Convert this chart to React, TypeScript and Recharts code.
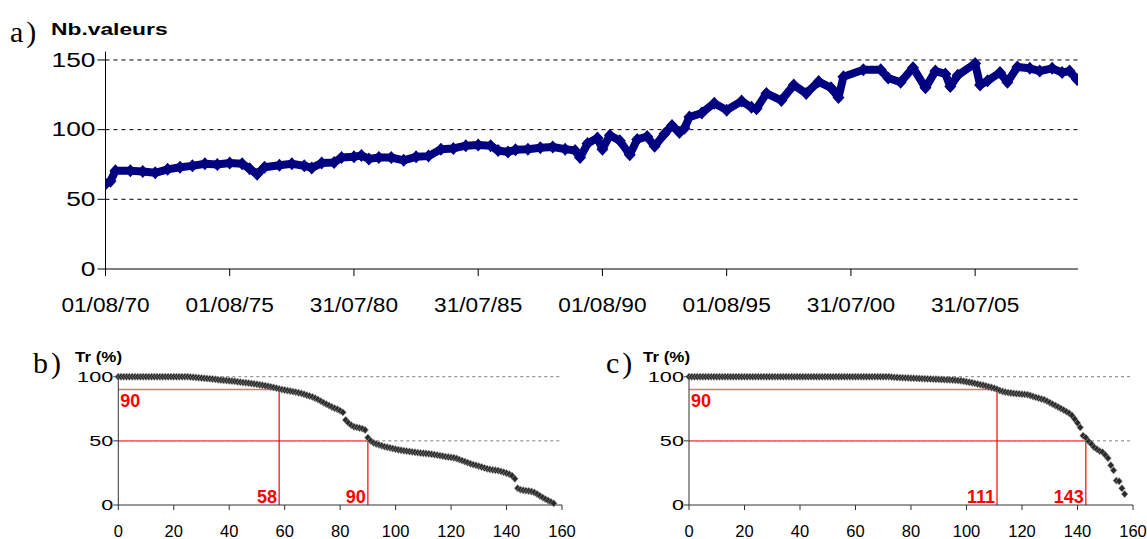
import React from "react";
import {
  LineChart,
  Line,
  ScatterChart,
  Scatter,
  XAxis,
  YAxis,
  CartesianGrid,
  ReferenceLine,
} from "recharts";

const SANS = "'Liberation Sans', Arial, sans-serif";
const SERIF = "'Liberation Serif', 'DejaVu Serif', serif";
const NARROW = "'Liberation Sans Narrow', 'Liberation Sans', Arial, sans-serif";

// a) number of values over time (years since 01/08/70)
const dateTicks = [0, 5, 10, 15, 20, 25, 30, 35];
const dateLabels = [
  "01/08/70", "01/08/75", "31/07/80", "31/07/85",
  "01/08/90", "01/08/95", "31/07/00", "31/07/05",
];
const countTicks = [0, 50, 100, 150];
const years = [
  0, 0.2, 0.4, 1.0, 1.5, 2.0, 2.5, 3.0, 3.5, 4.0, 4.5, 5.0, 5.5, 5.8, 6.1, 6.4,
  7.0, 7.5, 8.0, 8.3, 8.7, 9.2, 9.5, 10.0, 10.3, 10.6, 11.0, 11.5, 12.0, 12.5,
  13.0, 13.5, 14.0, 14.5, 15.0, 15.5, 15.8, 16.2, 16.5, 17.0, 17.5, 18.0, 18.5,
  18.9, 19.1, 19.4, 19.8, 20.0, 20.3, 20.7, 21.1, 21.4, 21.8, 22.1, 22.5, 22.8,
  23.1, 23.3, 23.5, 24.0, 24.5, 25.0, 25.6, 26.0, 26.2, 26.6, 27.2, 27.7, 28.2,
  28.7, 29.2, 29.5, 29.7, 30.5, 31.2, 31.5, 32.0, 32.5, 33.0, 33.4, 33.8, 34.0,
  34.3, 35.0, 35.2, 35.5, 36.0, 36.3, 36.7, 37.2, 37.6, 38.1, 38.5, 38.8, 39.1,
];
const counts = [
  61, 63, 70.5, 70.5, 70, 69, 71.5, 73, 74, 75.5, 75, 76, 75.5, 72, 68, 73,
  74.5, 75.5, 74, 72.5, 76, 76.5, 80, 80.5, 81.5, 79, 80, 80, 78, 80.5,
  81, 86, 86.5, 88.5, 89, 88.5, 85, 84, 85.5, 86, 87, 87.5, 86,
  85, 80, 90, 94, 86, 96, 92, 82, 93, 95, 88, 97, 103,
  98, 101, 109, 112, 119, 114, 120.5, 116, 115, 126, 121, 132, 126,
  134.5, 130, 123, 138, 143, 143, 137, 134, 144.5, 130, 142, 140, 131,
  139, 147.5, 132, 135, 141, 134, 145, 144, 142, 144, 141, 142, 136,
];

// b) and c) Tr (%) sorted by rank
const rankTicks = [0, 20, 40, 60, 80, 100, 120, 140, 160];
const trTicks = [0, 50, 100];
const trB = [
  100, 100, 100, 100, 100, 100, 100, 100, 100, 100, 100, 100, 100, 100, 100, 100,
  100, 100, 100, 100, 100, 100, 100, 100, 100, 100, 99.8, 99.6, 99.4, 99.2, 99.0,
  98.8, 98.6, 98.4, 98.2, 97.9, 97.6, 97.4, 97.2, 97.0, 96.8, 96.6, 96.4, 96.1,
  95.8, 95.5, 95.3, 95.0, 94.7, 94.4, 94.1, 93.7, 93.3, 93.0, 92.6, 92.1, 91.6,
  91.1, 90.5, 90.0, 89.6, 89.2, 88.8, 88.4, 88.0, 87.5, 87.0, 86.3, 85.6, 84.9,
  84.2, 83.2, 82.2, 81.0, 79.8, 78.6, 77.5, 76.4, 75.4, 74.6, 73.5, 72.2, 66.3,
  64.0, 62.2, 61.0, 60.5, 60.0, 59.5, 58.5, 52.5, 50.0, 48.5, 47.6, 46.9, 46.2,
  45.5, 45.0, 44.5, 44.0, 43.5, 43.1, 42.7, 42.3, 42.0, 41.7, 41.4, 41.1, 40.8,
  40.5, 40.3, 40.1, 39.9, 39.6, 39.3, 38.9, 38.5, 38.1, 37.7, 37.4, 37.1, 36.8,
  36.2, 35.4, 34.6, 33.8, 33.0, 32.2, 31.5, 30.9, 30.3, 29.6, 28.9, 28.3, 27.8,
  27.4, 27.1, 26.8, 26.2, 25.5, 24.8, 24.0, 22.8, 20.5, 13.0, 12.0, 11.5, 11.2,
  10.9, 10.5, 9.8, 8.6, 7.2, 5.8, 4.6, 3.5, 2.4, 1.3,
];
const trC = [
  100, 100, 100, 100, 100, 100, 100, 100, 100, 100, 100, 100, 100, 100, 100, 100,
  100, 100, 100, 100, 100, 100, 100, 100, 100, 100, 100, 100, 100, 100, 100, 100,
  100, 100, 100, 100, 100, 100, 100, 100, 100, 100, 100, 100, 100, 100, 100, 100,
  100, 100, 100, 100, 100, 100, 100, 100, 100, 100, 100, 100, 100, 100, 100, 100,
  100, 100, 100, 100, 100, 100, 100, 100, 100, 99.7, 99.5, 99.4, 99.3, 99.2, 99.1,
  99.0, 98.9, 98.8, 98.7, 98.6, 98.5, 98.4, 98.3, 98.2, 98.1, 98.0, 97.9, 97.8,
  97.7, 97.6, 97.5, 97.4, 97.2, 97.0, 96.8, 96.5, 96.1, 95.7, 95.3, 94.8, 94.3,
  93.8, 93.3, 92.8, 92.2, 91.6, 91.0, 90.2, 89.3, 88.5, 88.0, 87.6, 87.3, 87.0,
  86.8, 86.6, 86.4, 86.2, 86.0, 85.3, 84.6, 83.9, 83.3, 82.6, 82.0, 81.0, 79.8,
  78.6, 77.5, 76.4, 75.2, 74.0, 72.8, 71.5, 69.8, 67.0, 64.0, 60.5, 54.0, 52.5,
  49.6, 47.5, 45.0, 43.5, 42.0, 41.2, 39.0, 36.5, 31.0, 27.0, 19.0, 18.5, 13.0,
  8.5,
];
const levels = [90, 50];
const crossB = [58, 90];
const crossC = [111, 143];

const countData = years.map((t, i) => ({ t, v: counts[i] }));
const toRankData = (arr: number[]) => arr.map((y, x) => ({ x, y }));

const stretchYTick = (fs: number, sx: number) => (props: any) => {
  const { x, y, payload } = props;
  return (
    <text
      transform={`translate(${x},${y}) scale(${sx},1)`}
      textAnchor="end"
      dy="0.35em"
      fontSize={fs}
      fontFamily={SANS}
      fill="#000"
    >
      {payload.value}
    </text>
  );
};

const xTick = (fs: number, sx: number, fmt?: (v: number) => string) => (props: any) => {
  const { x, y, payload } = props;
  return (
    <text
      transform={`translate(${x},${y}) scale(${sx},1)`}
      textAnchor="middle"
      dy="0.72em"
      fontSize={fs}
      fontFamily={SANS}
      fill="#000"
    >
      {fmt ? fmt(payload.value) : payload.value}
    </text>
  );
};

const navyDiamond = (p: any) => {
  const { cx, cy, index } = p;
  if (cx == null || cy == null) return <g key={index} />;
  return (
    <path
      key={index}
      d={`M${cx},${cy - 6.5}L${cx + 6},${cy}L${cx},${cy + 6.5}L${cx - 6},${cy}Z`}
      fill="#000080"
    />
  );
};

const grayDiamond = (p: any) => {
  const { cx, cy } = p;
  return (
    <path
      d={`M${cx},${cy - 3.7}L${cx + 3.3},${cy}L${cx},${cy + 3.7}L${cx - 3.3},${cy}Z`}
      fill="#2a2a2a"
      stroke="#a0a0a0"
      strokeWidth={0.6}
    />
  );
};

const redText = {
  fill: "#ff0000",
  fontFamily: NARROW,
  fontWeight: 700,
  fontSize: 18,
};

const labelBelowLine = (text: string) => (props: any) => {
  const vb = props.viewBox || {};
  return (
    <text x={vb.x + 2} y={vb.y + 17} {...redText}>
      {text}
    </text>
  );
};

const labelLeftOfFoot = (text: string) => (props: any) => {
  const vb = props.viewBox || {};
  return (
    <text x={vb.x - 2} y={vb.y + (vb.height || 0) - 2} textAnchor="end" {...redText}>
      {text}
    </text>
  );
};

function RankChart({
  values,
  cross,
  left,
  width,
  marginLeft,
  marginRight,
}: {
  values: number[];
  cross: number[];
  left: number;
  width: number;
  marginLeft: number;
  marginRight: number;
}) {
  const data = toRankData(values);
  return (
    <div style={{ position: "absolute", left, top: 340 }}>
      <ScatterChart
        width={width}
        height={200}
        margin={{ top: 36.7, right: marginRight, bottom: 0, left: marginLeft }}
      >
        <CartesianGrid
          horizontal
          vertical={false}
          horizontalValues={[50, 100]}
          stroke="#808080"
          strokeDasharray="3 3"
        />
        <XAxis
          type="number"
          dataKey="x"
          domain={[0, 160]}
          ticks={rankTicks}
          interval={0}
          height={35}
          tickSize={5}
          tickMargin={15}
          stroke="#333"
          tick={xTick(16.5, 1)}
        />
        <YAxis
          type="number"
          dataKey="y"
          domain={[0, 100]}
          ticks={trTicks}
          interval={0}
          width={60}
          tickSize={5}
          tickMargin={0}
          stroke="#333"
          tick={stretchYTick(15.5, 1.4)}
        />
        <ReferenceLine
          segment={[{ x: 0, y: levels[0] }, { x: cross[0], y: levels[0] }]}
          stroke="#f26d6d"
          strokeWidth={1.6}
          label={labelBelowLine(String(levels[0]))}
        />
        <ReferenceLine
          segment={[{ x: 0, y: levels[1] }, { x: cross[1], y: levels[1] }]}
          stroke="#f26d6d"
          strokeWidth={1.6}
        />
        <ReferenceLine
          segment={[{ x: cross[0], y: 0 }, { x: cross[0], y: levels[0] }]}
          stroke="#ff0000"
          strokeWidth={1.2}
          label={labelLeftOfFoot(String(cross[0]))}
        />
        <ReferenceLine
          segment={[{ x: cross[1], y: 0 }, { x: cross[1], y: levels[1] }]}
          stroke="#ff0000"
          strokeWidth={1.2}
          label={labelLeftOfFoot(String(cross[1]))}
        />
        <Scatter data={data} shape={grayDiamond} isAnimationActive={false} />
      </ScatterChart>
    </div>
  );
}

export default function App() {
  return (
    <div style={{ position: "relative", width: 1147, height: 539, background: "#fff" }}>
      <style>{"body{margin:0}"}</style>
      <div style={{ position: "absolute", left: 0, top: 0 }}>
        <LineChart
          width={1147}
          height={330}
          data={countData}
          margin={{ top: 51.6, right: 69, bottom: 0, left: 45.5 }}
        >
          <CartesianGrid
            horizontal
            vertical={false}
            horizontalValues={[50, 100, 150]}
            stroke="#000"
            strokeDasharray="4 4"
          />
          <XAxis
            type="number"
            dataKey="t"
            domain={[0, 39.14]}
            ticks={dateTicks}
            interval={0}
            allowDataOverflow
            height={61}
            tickSize={7}
            tickMargin={21}
            stroke="#000"
            tick={xTick(21, 1.08, (v) => dateLabels[dateTicks.indexOf(v)])}
          />
          <YAxis
            type="number"
            domain={[0, 156]}
            ticks={countTicks}
            interval={0}
            width={60}
            tickSize={8}
            tickMargin={2}
            stroke="#000"
            tick={stretchYTick(19.5, 1.35)}
          />
          <Line
            type="linear"
            dataKey="v"
            stroke="#000080"
            strokeWidth={8}
            strokeLinejoin="round"
            dot={navyDiamond}
            activeDot={false}
            isAnimationActive={false}
          />
        </LineChart>
      </div>

      <RankChart values={trB} cross={crossB} left={0} width={580} marginLeft={58.3} marginRight={18} />
      <RankChart values={trC} cross={crossC} left={580} width={567} marginLeft={49} marginRight={14} />

      <svg
        width={1147}
        height={539}
        style={{ position: "absolute", left: 0, top: 0, pointerEvents: "none" }}
      >
        <text x={10} y={42} fontFamily={SERIF} fontSize={30} letterSpacing={3}>
          a)
        </text>
        <text
          transform="translate(51,35) scale(1.4,1)"
          fontFamily={SANS}
          fontWeight={700}
          fontSize={16.3}
        >
          Nb.valeurs
        </text>
        <text x={33} y={373} fontFamily={SERIF} fontSize={30} letterSpacing={3}>
          b)
        </text>
        <text
          transform="translate(75,362) scale(1.13,1)"
          fontFamily={SANS}
          fontWeight={700}
          fontSize={15}
        >
          Tr (%)
        </text>
        <text x={606} y={373} fontFamily={SERIF} fontSize={30} letterSpacing={3}>
          c)
        </text>
        <text
          transform="translate(643,362) scale(1.13,1)"
          fontFamily={SANS}
          fontWeight={700}
          fontSize={15}
        >
          Tr (%)
        </text>
      </svg>
    </div>
  );
}
